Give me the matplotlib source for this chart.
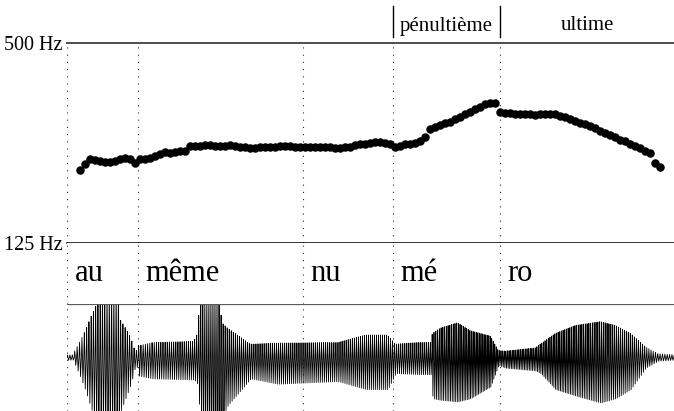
import numpy as np
import matplotlib
matplotlib.use("Agg")
import matplotlib.pyplot as plt

plt.rcParams['font.family'] = ['Liberation Serif', 'DejaVu Serif']

# pitch track: one value every 10 ms, first frame at 26 ms
f0_start = 0.026
f0_step = 0.010
f0_hz = [208, 216, 223, 222, 220, 219, 219, 220, 223, 226,
         223, 217, 223, 224, 225, 228, 231, 235, 234, 235,
         236, 237, 245, 245, 245, 247, 246, 245, 245, 245,
         246, 245, 244, 243, 242, 241, 243, 244, 244, 244,
         245, 245, 245, 244, 244, 244, 244, 244, 244, 243,
         243, 242, 242, 243, 244, 246, 248, 249, 250, 251,
         251, 250, 248, 244, 245, 248, 248, 250, 254, 260,
         275, 280, 283, 287, 290, 295, 299, 306, 310, 316,
         321, 327, 330, 329, 311, 308, 307, 306, 306, 306,
         305, 304, 305, 306, 306, 305, 302, 299, 295, 291,
         287, 285, 281, 277, 272, 268, 264, 260, 256, 253,
         249, 245, 241, 237, 233, 217, 211]

# syllables and their start times (s)
syllables = ['au', 'même', 'nu', 'mé', 'ro']
syl_start = [0.000, 0.142, 0.472, 0.652, 0.866]
t_end = 1.214

# stress zones above the plot
zones = ['pénultième', 'ultime']
zone_start = [0.652, 0.866]

# waveform envelope (upper / lower amplitude, 1 = half the panel)
env_t = [0.000, 0.010, 0.016, 0.026, 0.036, 0.046, 0.056, 0.080, 0.102,
         0.106, 0.116, 0.126, 0.136, 0.142, 0.170, 0.250, 0.258, 0.266,
         0.290, 0.300, 0.310, 0.320, 0.366, 0.420, 0.540, 0.596, 0.640,
         0.656, 0.700, 0.726, 0.730, 0.746, 0.780, 0.806, 0.846, 0.862,
         0.876, 0.936, 0.946, 0.976, 1.016, 1.066, 1.096, 1.126, 1.156,
         1.180, 1.214]
env_up = [0.05, 0.05, 0.15, 0.32, 0.51, 0.74, 0.95, 1.35, 1.35,
          0.70, 0.55, 0.38, 0.10, 0.22, 0.28, 0.30, 0.38, 1.10,
          1.30, 1.20, 0.64, 0.55, 0.25, 0.27, 0.28, 0.42, 0.42,
          0.25, 0.28, 0.28, 0.45, 0.55, 0.65, 0.50, 0.40, 0.13,
          0.12, 0.18, 0.25, 0.45, 0.60, 0.67, 0.60, 0.45, 0.20,
          0.07, 0.05]
env_lo = [0.05, 0.05, 0.18, 0.40, 0.65, 0.95, 1.20, 1.35, 1.35,
          1.00, 0.75, 0.50, 0.12, 0.35, 0.40, 0.42, 0.45, 1.20,
          1.30, 1.25, 1.10, 0.90, 0.40, 0.50, 0.45, 0.60, 0.60,
          0.30, 0.32, 0.32, 0.77, 0.80, 0.83, 0.77, 0.55, 0.15,
          0.20, 0.25, 0.30, 0.60, 0.72, 0.85, 0.77, 0.60, 0.20,
          0.07, 0.05]

W, H = 674, 411
fig = plt.figure(figsize=(W / 100, H / 100), dpi=100)
x0 = 67 / W


def box(top, bottom):
    return [x0, 1 - bottom / H, 1 - x0, (bottom - top) / H]


ax_head = fig.add_axes(box(0, 43))
ax_f0 = fig.add_axes(box(43, 243), sharex=ax_head)
ax_txt = fig.add_axes(box(243, 304), sharex=ax_head)
ax_wav = fig.add_axes(box(304, 411), sharex=ax_head)

for ax in (ax_head, ax_f0, ax_txt, ax_wav):
    ax.set_xlim(0, t_end)
    for s in ax.spines.values():
        s.set_visible(False)
    ax.tick_params(left=False, bottom=False, labelbottom=False)
    ax.set_yticks([])

# pitch panel
t_f0 = f0_start + f0_step * np.arange(len(f0_hz))
ax_f0.set_yscale('log')
ax_f0.set_ylim(125, 500)
ax_f0.minorticks_off()
ax_f0.set_yticks([125, 500])
ax_f0.set_yticklabels(['125 Hz', '500 Hz'], fontsize=14.5)
ax_f0.tick_params(axis='y', left=False, length=0, pad=3)
ax_f0.axhline(500, color='0.3', lw=1.4, clip_on=False)
ax_f0.axhline(125, color='black', lw=1.1, clip_on=False)
ax_f0.scatter(t_f0, f0_hz, s=26, color='black', zorder=3, clip_on=False)

# syllable row
ax_txt.set_ylim(0, 1)
for s, t in zip(syllables, syl_start):
    ax_txt.text(t + 0.015, 0.50, s, fontsize=22, va='center', ha='left')

# waveform: one glottal cycle per pitch period, scaled by the envelope
shape_x = [0.0, 0.22, 0.40, 0.62, 1.0]
shape_y = [0.0, 1.0, 0.2, -1.0, 0.0]
wx, wy = [], []
t = 0.0
while t < t_end:
    period = 1.0 / np.interp(t, t_f0, f0_hz)
    up = np.interp(t, env_t, env_up)
    lo = np.interp(t, env_t, env_lo)
    for sx, sy in zip(shape_x[:-1], shape_y[:-1]):
        wx.append(t + sx * period)
        wy.append(sy * (up if sy > 0 else lo))
    t += period
ax_wav.set_ylim(-1, 1)
ax_wav.plot(wx, wy, color='black', lw=0.6)
ax_wav.axhline(1, color='0.35', lw=1.6, zorder=4)

# stress zones header
ax_head.set_ylim(0, 43)
bounds = zone_start + [t_end]
for i, z in enumerate(zones):
    ax_head.plot([bounds[i], bounds[i]], [6, 37], color='black', lw=1)
    ax_head.text((bounds[i] + bounds[i + 1]) / 2, 17, z, fontsize=15,
                 ha='center', va='center')

# dotted syllable boundaries across the panels
for t in syl_start:
    for ax in (ax_f0, ax_txt, ax_wav):
        ax.axvline(t, color='0.15', lw=0.8, linestyle=(0, (1, 5.5)), zorder=1)

fig.savefig('out.png', dpi=100)
